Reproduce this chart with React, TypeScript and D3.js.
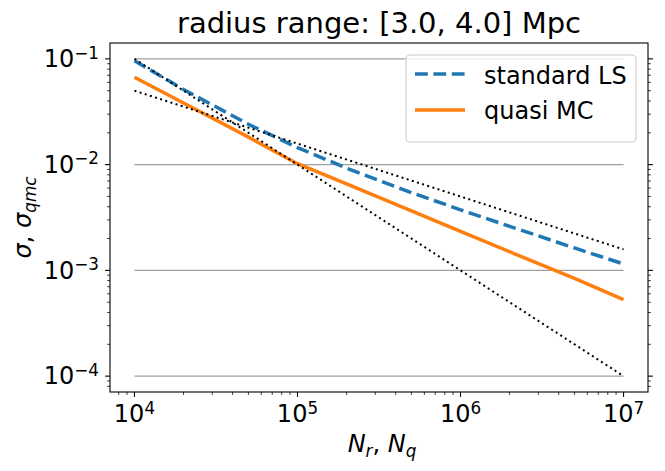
import React from 'react'
import * as d3 from 'd3'

const sampleSizes = [1e4, 2e4, 5e4, 1e5, 2e5, 5e5, 1e6, 2e6, 5e6, 1e7]
const standardLS = [0.096, 0.0513, 0.0241, 0.0145, 0.00926, 0.00544, 0.00374, 0.00261, 0.00163, 0.00115]
const quasiMC = [0.067, 0.0382, 0.0182, 0.0102, 0.00656, 0.00365, 0.00234, 0.0015, 0.00084, 0.00053]

// dotted guide lines (N^-1/2 and N^-1)
const guideN = [1e4, 1e7]
const guideHalf = [0.05, 0.00158]
const guideOne = [0.1, 0.0001]

// horizontal reference levels
const levels = [1e-1, 1e-2, 1e-3, 1e-4]

const xTickExps = [4, 5, 6, 7]
const yTickExps = [-1, -2, -3, -4]

const W = 665
const H = 471
const left = 110
const right = 648
const top = 43
const bottom = 392
const FONT = 'DejaVu Sans, sans-serif'
const BLUE = '#1f77b4'
const ORANGE = '#ff7f0e'
const FS = 24
const SUB = 16.8

function minorTicks(lo: number, hi: number) {
  const out: number[] = []
  for (let e = Math.floor(lo); e <= Math.ceil(hi); e++) {
    for (let d = 2; d <= 9; d++) {
      const v = d * Math.pow(10, e)
      if (Math.log10(v) >= lo && Math.log10(v) <= hi) out.push(v)
    }
  }
  return out
}

export default function App() {
  const xDom = [3.85, 7.15]
  const yDom = [-4.15, -0.85]
  const x = d3.scaleLog().domain([10 ** xDom[0], 10 ** xDom[1]]).range([left, right])
  const y = d3.scaleLog().domain([10 ** yDom[0], 10 ** yDom[1]]).range([bottom, top])

  const line = d3
    .line<[number, number]>()
    .x((d) => x(d[0]))
    .y((d) => y(d[1]))

  const zip = (xs: number[], ys: number[]) => xs.map((v, i) => [v, ys[i]] as [number, number])

  const xMinor = minorTicks(xDom[0], xDom[1])
  const yMinor = minorTicks(yDom[0], yDom[1])

  return (
    <svg
      width={W}
      height={H}
      style={{position: 'absolute', left: 0, top: 0, background: '#fff'}}
      fontFamily={FONT}>
      {/* reference levels */}
      {levels.map((v) => (
        <line
          key={v}
          x1={x(sampleSizes[0])}
          x2={x(sampleSizes[sampleSizes.length - 1])}
          y1={y(v)}
          y2={y(v)}
          stroke="#a0a0a0"
          strokeWidth={1.1}
        />
      ))}

      <path d={line(zip(sampleSizes, standardLS)) || ''} fill="none" stroke={BLUE} strokeWidth={3.5} strokeDasharray="12.8 5.6" />
      <path d={line(zip(sampleSizes, quasiMC)) || ''} fill="none" stroke={ORANGE} strokeWidth={3.5} />
      <path d={line(zip(guideN, guideHalf)) || ''} fill="none" stroke="#000" strokeWidth={2} strokeDasharray="2 3.4" />
      <path d={line(zip(guideN, guideOne)) || ''} fill="none" stroke="#000" strokeWidth={2} strokeDasharray="2 3.4" />

      {/* frame */}
      <rect x={left} y={top} width={right - left} height={bottom - top} fill="none" stroke="#000" strokeWidth={1.1} />

      {/* x ticks */}
      {xTickExps.map((e) => (
        <g key={'xt' + e}>
          <line x1={x(10 ** e)} x2={x(10 ** e)} y1={bottom} y2={bottom + 4.9} stroke="#000" strokeWidth={1.1} />
          <text x={x(10 ** e)} y={422} textAnchor="middle" fontSize={FS}>
            10<tspan dy={-8.5} fontSize={SUB}>{e}</tspan>
          </text>
        </g>
      ))}
      {xMinor.map((v) => (
        <line key={'xm' + v} x1={x(v)} x2={x(v)} y1={bottom} y2={bottom + 2.8} stroke="#000" strokeWidth={0.8} />
      ))}

      {/* y ticks, left with labels, right without */}
      {yTickExps.map((e) => (
        <g key={'yt' + e}>
          <line x1={left - 4.9} x2={left} y1={y(10 ** e)} y2={y(10 ** e)} stroke="#000" strokeWidth={1.1} />
          <line x1={right} x2={right + 4.9} y1={y(10 ** e)} y2={y(10 ** e)} stroke="#000" strokeWidth={1.1} />
          <text x={99} y={y(10 ** e) + 8.3} textAnchor="end" fontSize={FS}>
            10<tspan dy={-8.5} fontSize={SUB}>{'\u2212' + Math.abs(e)}</tspan>
          </text>
        </g>
      ))}
      {yMinor.map((v) => (
        <g key={'ym' + v}>
          <line x1={left - 2.8} x2={left} y1={y(v)} y2={y(v)} stroke="#000" strokeWidth={0.8} />
          <line x1={right} x2={right + 2.8} y1={y(v)} y2={y(v)} stroke="#000" strokeWidth={0.8} />
        </g>
      ))}

      {/* axis labels */}
      <text x={(left + right) / 2 + 3} y={452} textAnchor="middle" fontSize={FS}>
        <tspan fontStyle="italic">N</tspan>
        <tspan dy={4.5} fontSize={SUB} fontStyle="italic">r</tspan>
        <tspan dy={-4.5}>, </tspan>
        <tspan fontStyle="italic">N</tspan>
        <tspan dy={4.5} fontSize={SUB} fontStyle="italic">q</tspan>
      </text>
      <text transform={`translate(31,${(top + bottom) / 2}) rotate(-90)`} textAnchor="middle" fontSize={FS}>
        <tspan fontStyle="italic">σ</tspan>
        <tspan>, </tspan>
        <tspan fontStyle="italic">σ</tspan>
        <tspan dy={4.5} fontSize={SUB} fontStyle="italic">qmc</tspan>
      </text>

      {/* title */}
      <text x={(left + right) / 2} y={33} textAnchor="middle" fontSize={29}>
        radius range: [3.0, 4.0] Mpc
      </text>

      {/* legend */}
      <rect x={406} y={55} width={230} height={87} rx={4} fill="#fff" fillOpacity={0.8} stroke="#cccccc" strokeWidth={1.1} />
      <line x1={415} x2={465} y1={74} y2={74} stroke={BLUE} strokeWidth={3.5} strokeDasharray="12.8 5.6" />
      <text x={484} y={83.5} fontSize={FS}>standard LS</text>
      <line x1={415} x2={465} y1={110} y2={110} stroke={ORANGE} strokeWidth={3.5} />
      <text x={484} y={119} fontSize={FS}>quasi MC</text>
    </svg>
  )
}
